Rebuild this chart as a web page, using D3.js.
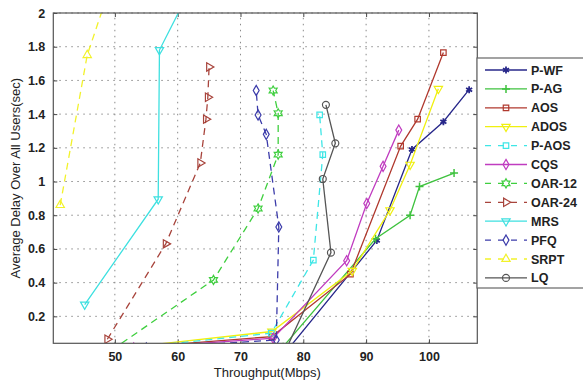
<!DOCTYPE html>
<html>
<head>
<meta charset="utf-8">
<script src="https://cdn.jsdelivr.net/npm/d3@7"></script>
<style>
  body { margin: 0; background: #fff; }
  svg { display: block; font-family: "Liberation Sans", Arial, sans-serif; }
</style>
</head>
<body>
<div id="chart"></div>
<script>
// data: [throughput (Mbps), delay (sec)]
const seriesNames = ['P-WF', 'P-AG', 'AOS', 'ADOS', 'P-AOS', 'CQS', 'OAR-12', 'OAR-24', 'MRS', 'PFQ', 'SRPT', 'LQ']
const pwf = [[77.9, 0.02], [91.7, 0.65], [97.3, 1.19], [102.3, 1.355], [106.4, 1.545]]
const pag = [[76.8, 0.02], [91.5, 0.66], [97.0, 0.80], [98.5, 0.97], [104.0, 1.05]]
const aos = [[52.0, 0.012], [75.0, 0.08], [87.5, 0.45], [95.5, 1.21], [98.2, 1.37], [102.3, 1.765]]
const ados = [[52.0, 0.015], [75.0, 0.11], [87.8, 0.47], [93.8, 0.83], [97.0, 1.10], [101.5, 1.55]]
const paos = [[53.0, 0.015], [74.9, 0.10], [81.6, 0.534], [83.1, 1.16], [82.6, 1.395]]
const cqs = [[53.0, 0.012], [75.2, 0.07], [86.9, 0.53], [90.1, 0.87], [92.7, 1.09], [95.2, 1.305]]
const oar12 = [[49.5, 0.0], [65.7, 0.416], [72.8, 0.84], [76.0, 1.16], [76.0, 1.405], [75.2, 1.54]]
const oar24 = [[48.8, 0.064], [58.1, 0.63], [63.6, 1.11], [64.5, 1.37], [64.8, 1.50], [65.0, 1.68]]
const mrs = [[45.2, 0.27], [56.9, 0.895], [57.1, 1.78], [63.1, 2.22]]
const pfq = [[55.0, 0.012], [75.7, 0.06], [76.1, 0.73], [74.1, 1.28], [72.8, 1.395], [72.5, 1.54]]
const srpt = [[41.3, 0.86], [45.6, 1.75], [49.2, 2.15]]
const lq = [[77.2, 0.0], [84.4, 0.578], [83.1, 1.015], [85.1, 1.227], [83.6, 1.455]]
const seriesData = [pwf, pag, aos, ados, paos, cqs, oar12, oar24, mrs, pfq, srpt, lq]

const xTicks = [50, 60, 70, 80, 90, 100]
const yTicks = [0.2, 0.4, 0.6, 0.8, 1, 1.2, 1.4, 1.6, 1.8, 2]

// drawing styles, one per series
const styles = [
    {color: '#27278a', dash: null, marker: 'star'},
    {color: '#3fc23f', dash: null, marker: 'plus'},
    {color: '#b0392e', dash: null, marker: 'square'},
    {color: '#f0f010', dash: null, marker: 'down'},
    {color: '#3ee6e6', dash: '7,5', marker: 'square'},
    {color: '#c03cc0', dash: null, marker: 'diamond'},
    {color: '#3fcf3f', dash: '7,5', marker: 'hexagram'},
    {color: '#a8443c', dash: '7,5', marker: 'right'},
    {color: '#3ee0e0', dash: null, marker: 'down'},
    {color: '#3c3caa', dash: '7,5', marker: 'diamond'},
    {color: '#f2f22a', dash: '7,5', marker: 'up'},
    {color: '#555555', dash: null, marker: 'circle'}
]

const width = 583, height = 382
const plotLeft = 53.3, plotRight = 477.3, plotTop = 13, plotBottom = 343.3

const svg = d3.select('#chart').append('svg')
    .attr('width', width)
    .attr('height', height)

const x = d3.scaleLinear().domain([40.2, 107.7]).range([plotLeft, plotRight])
const y = d3.scaleLinear().domain([0.04, 2]).range([plotBottom, plotTop])

svg.append('defs').append('clipPath').attr('id', 'plot-clip')
    .append('rect')
    .attr('x', plotLeft).attr('y', plotTop)
    .attr('width', plotRight - plotLeft).attr('height', plotBottom - plotTop)

//grid lines
const grid = svg.append('g').attr('stroke', '#8a8a8a').attr('stroke-width', 1).attr('stroke-dasharray', '1.5,4.5')
grid.selectAll('.vg').data(xTicks).join('line')
    .attr('x1', d => x(d)).attr('x2', d => x(d))
    .attr('y1', plotBottom).attr('y2', plotTop)
grid.selectAll('.hg').data(yTicks).join('line')
    .attr('x1', plotLeft).attr('x2', plotRight)
    .attr('y1', d => y(d)).attr('y2', d => y(d))

//axes with inward ticks like matlab
const axisStyle = g => {
    g.select('.domain').remove()
    g.selectAll('.tick line').attr('stroke', '#444')
    g.selectAll('.tick text').attr('fill', '#222').style('font-size', '12.5px').style('font-weight', 'bold')
}
svg.append('g')
    .attr('transform', `translate(0,${plotBottom})`)
    .call(d3.axisBottom(x).tickValues(xTicks).tickSizeInner(-4).tickPadding(9).tickFormat(d3.format('d')))
    .call(axisStyle)
svg.append('g')
    .attr('transform', `translate(0,${plotTop})`)
    .call(d3.axisTop(x).tickValues(xTicks).tickSizeInner(-4).tickFormat(''))
    .call(axisStyle)
svg.append('g')
    .attr('transform', `translate(${plotLeft},0)`)
    .call(d3.axisLeft(y).tickValues(yTicks).tickSizeInner(-4).tickPadding(8).tickFormat(d => d3.format('~g')(d)))
    .call(axisStyle)
svg.append('g')
    .attr('transform', `translate(${plotRight},0)`)
    .call(d3.axisRight(y).tickValues(yTicks).tickSizeInner(-4).tickFormat(''))
    .call(axisStyle)

//series lines and markers
const symbolFor = {
    star: d3.symbol(d3.symbolAsterisk, 34),
    square: d3.symbol(d3.symbolSquare, 30),
    diamond: d3.symbol(d3.symbolDiamond, 30),
    circle: d3.symbol(d3.symbolCircle, 38),
    up: d3.symbol(d3.symbolTriangle, 30),
    down: d3.symbol(d3.symbolTriangle, 30),
    right: d3.symbol(d3.symbolTriangle, 30)
}
const rotateFor = {down: 180, right: 90}

//six pointed star like matlab 'h'
const hexagramPath = (() => {
    const p = d3.path()
    for (let k = 0; k < 12; k++) {
        const r = k % 2 === 0 ? 4.6 : 2.6
        const a = -Math.PI / 2 + k * Math.PI / 6
        if (k === 0) p.moveTo(r * Math.cos(a), r * Math.sin(a))
        else p.lineTo(r * Math.cos(a), r * Math.sin(a))
    }
    p.closePath()
    return p.toString()
})()

const line = d3.line().x(d => x(d[0])).y(d => y(d[1]))
const plot = svg.append('g').attr('clip-path', 'url(#plot-clip)')

function drawMarker(g, st, cx, cy) {
    let d
    if (st.marker === 'plus') d = 'M-4,0H4M0,-4V4'
    else if (st.marker === 'hexagram') d = hexagramPath
    else d = symbolFor[st.marker]()
    const m = g.append('path')
        .attr('d', d)
        .attr('transform', `translate(${cx},${cy}) rotate(${rotateFor[st.marker] || 0})`)
        .attr('stroke', st.color)
        .attr('stroke-width', 1.2)
        .attr('fill', 'none')
    if (st.marker === 'star') m.attr('fill', st.color).attr('stroke-width', 1.8)
    if (st.marker === 'plus') m.attr('stroke-width', 1.5)
}

seriesData.forEach((pts, i) => {
    const st = styles[i]
    plot.append('path')
        .datum(pts)
        .attr('d', line)
        .attr('fill', 'none')
        .attr('stroke', st.color)
        .attr('stroke-width', 1.3)
        .attr('stroke-dasharray', st.dash)
    const mg = plot.append('g')
    pts.forEach(p => drawMarker(mg, st, x(p[0]), y(p[1])))
})

//plot frame
svg.append('rect')
    .attr('x', plotLeft).attr('y', plotTop)
    .attr('width', plotRight - plotLeft).attr('height', plotBottom - plotTop)
    .attr('fill', 'none').attr('stroke', '#555').attr('stroke-width', 1.2)

//axis labels
svg.append('text')
    .attr('x', (plotLeft + plotRight) / 2 + 2).attr('y', 377)
    .attr('text-anchor', 'middle')
    .style('font-size', '13px').attr('fill', '#222')
    .text('Throughput(Mbps)')
svg.append('text')
    .attr('transform', `translate(20,${(plotTop + plotBottom) / 2}) rotate(-90)`)
    .attr('text-anchor', 'middle')
    .style('font-size', '13px').attr('fill', '#222')
    .text('Average Delay Over All Users(sec)')

//legend
const legend = svg.append('g')
legend.append('rect')
    .attr('x', 477).attr('y', 58)
    .attr('width', 120).attr('height', 230)
    .attr('fill', '#fff').attr('stroke', '#666').attr('stroke-width', 1.2)
seriesNames.forEach((name, i) => {
    const st = styles[i]
    const ly = 70 + i * 18.9
    legend.append('line')
        .attr('x1', 485).attr('x2', 527)
        .attr('y1', ly).attr('y2', ly)
        .attr('stroke', st.color).attr('stroke-width', 1.3)
        .attr('stroke-dasharray', st.dash ? '6,7' : null)
    drawMarker(legend, st, 506, ly)
    legend.append('text')
        .attr('x', 531).attr('y', ly + 4.5)
        .style('font-size', '12.5px').style('font-weight', 'bold').attr('fill', '#222')
        .text(name)
})
</script>
</body>
</html>
